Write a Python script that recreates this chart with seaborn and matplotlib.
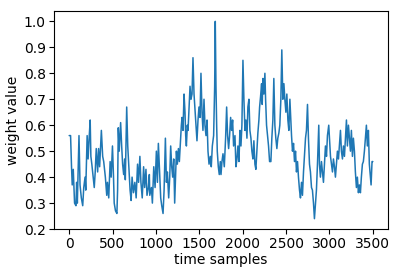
import matplotlib
matplotlib.use('Agg')
import matplotlib.pyplot as plt
import pandas as pd
import seaborn as sns

# values
time_samples = [
    0, 16, 27, 35, 47, 62, 78, 86, 94, 113, 125, 140, 156, 168, 183, 191, 207, 218, 230, 242,
    250, 261, 277, 289, 300, 312, 328, 339, 351, 371, 386, 398, 417, 433, 441, 456, 472, 484, 499, 511,
    519, 534, 550, 558, 566, 577, 593, 605, 616, 628, 640, 647, 663, 675, 686, 702, 714, 725, 741, 757,
    772, 788, 800, 815, 827, 842, 858, 870, 885, 897, 913, 924,
    929, 948, 959, 975, 990, 1005, 1017, 1028, 1044, 1055, 1067, 1082, 1094, 1109, 1121, 1132, 1147, 1159, 1170, 1182,
    1193, 1205, 1216, 1228, 1236, 1247, 1259, 1270, 1282, 1293, 1301, 1312, 1324, 1335, 1343, 1351, 1362, 1370, 1381, 1393,
    1404, 1416, 1427, 1439, 1450, 1462, 1473, 1485, 1496, 1508, 1519, 1531, 1542, 1554, 1565, 1577, 1589, 1600, 1612, 1627,
    1638, 1650, 1665, 1677, 1684, 1692, 1700, 1707, 1719, 1730, 1742, 1750, 1761, 1773, 1788, 1803, 1815, 1826, 1838, 1849,
    1861, 1872, 1884, 1895, 1911, 1922, 1934, 1945, 1957, 1968, 1980, 1991, 2003, 2014, 2026, 2037, 2049, 2060, 2072, 2083,
    2095, 2106, 2118, 2129, 2141, 2152, 2164, 2175, 2187,
    2195, 2206, 2218, 2225, 2233, 2244, 2256, 2264, 2275, 2287, 2298, 2310, 2325, 2336, 2348, 2359, 2371, 2382, 2394, 2405,
    2417, 2428, 2440, 2451, 2463, 2475, 2486, 2498, 2509, 2521, 2532, 2544, 2555, 2563, 2574, 2586, 2597, 2609, 2620, 2632,
    2643, 2655, 2666, 2678, 2689, 2701, 2712, 2724, 2735, 2747, 2758, 2770, 2781, 2793, 2804, 2816, 2827, 2839, 2850, 2862,
    2877, 2885, 2896, 2908, 2919, 2931, 2942, 2954, 2966, 2977, 2992, 3012, 3023, 3035, 3046, 3058, 3069, 3081, 3092, 3104,
    3115, 3127, 3138, 3150, 3161, 3173, 3184, 3196, 3207, 3219, 3230, 3242, 3253, 3265, 3276, 3288, 3299, 3311, 3322, 3334,
    3345, 3357, 3368, 3380, 3391, 3403, 3414, 3426, 3437, 3449, 3460, 3472, 3480, 3491, 3500,
]
weights = [
    0.56, 0.56, 0.44, 0.37, 0.43, 0.30, 0.29, 0.38, 0.30, 0.56, 0.37, 0.32, 0.29, 0.36, 0.40, 0.35, 0.56, 0.47, 0.55, 0.62,
    0.48, 0.45, 0.40, 0.36, 0.42, 0.51, 0.42, 0.51, 0.44, 0.58, 0.48, 0.46, 0.40, 0.33, 0.38, 0.32, 0.46, 0.40, 0.52, 0.40,
    0.30, 0.27, 0.26, 0.35, 0.59, 0.50, 0.61, 0.52, 0.45, 0.41, 0.47, 0.39, 0.67, 0.52, 0.45, 0.35, 0.31, 0.40, 0.34, 0.38,
    0.32, 0.45, 0.38, 0.48, 0.38, 0.32, 0.44, 0.36, 0.43, 0.33, 0.36, 0.41,
    0.33, 0.36, 0.30, 0.44, 0.36, 0.50, 0.38, 0.53, 0.40, 0.32, 0.29, 0.26, 0.35, 0.55, 0.38, 0.42, 0.32, 0.40, 0.52, 0.44,
    0.40, 0.47, 0.30, 0.42, 0.50, 0.45, 0.51, 0.46, 0.53, 0.60, 0.63, 0.58, 0.72, 0.65, 0.56, 0.52, 0.60, 0.58, 0.66, 0.75,
    0.70, 0.72, 0.86, 0.72, 0.66, 0.60, 0.54, 0.62, 0.67, 0.63, 0.80, 0.65, 0.58, 0.70, 0.60, 0.56, 0.62, 0.50, 0.45, 0.48,
    0.44, 0.52, 0.56, 0.75, 1.00, 0.75, 0.60, 0.50, 0.44, 0.41, 0.46, 0.41, 0.46, 0.49, 0.44, 0.55, 0.67, 0.56, 0.51, 0.56,
    0.63, 0.58, 0.62, 0.52, 0.56, 0.44, 0.47, 0.52, 0.46, 0.58, 0.52, 0.60, 0.85, 0.70, 0.58, 0.62, 0.55, 0.67, 0.70, 0.58,
    0.55, 0.50, 0.47, 0.54, 0.45, 0.43, 0.50, 0.57, 0.62,
    0.67, 0.71, 0.76, 0.68, 0.78, 0.72, 0.80, 0.70, 0.60, 0.56, 0.52, 0.46, 0.46, 0.55, 0.62, 0.78, 0.60, 0.55, 0.51, 0.55,
    0.57, 0.60, 0.70, 0.89, 0.70, 0.76, 0.70, 0.65, 0.72, 0.62, 0.58, 0.70, 0.62, 0.56, 0.50, 0.53, 0.46, 0.50, 0.42, 0.46,
    0.40, 0.35, 0.32, 0.38, 0.33, 0.42, 0.48, 0.55, 0.58, 0.68, 0.55, 0.45, 0.42, 0.36, 0.35, 0.30, 0.24, 0.30, 0.35, 0.45,
    0.60, 0.45, 0.40, 0.46, 0.42, 0.38, 0.45, 0.52, 0.48, 0.56, 0.60, 0.48, 0.45, 0.42, 0.47, 0.44, 0.40, 0.45, 0.50, 0.47,
    0.52, 0.58, 0.50, 0.47, 0.52, 0.48, 0.55, 0.62, 0.52, 0.60, 0.55, 0.50, 0.58, 0.48, 0.55, 0.50, 0.42, 0.36, 0.40, 0.34,
    0.37, 0.34, 0.40, 0.45, 0.46, 0.50, 0.55, 0.60, 0.52, 0.58, 0.45, 0.40, 0.37, 0.46, 0.46,
]
yticks = [0.2, 0.3, 0.4, 0.5, 0.6, 0.7, 0.8, 0.9, 1.0]
xticks = [0, 500, 1000, 1500, 2000, 2500, 3000, 3500]

df = pd.DataFrame({'t': time_samples, 'w': weights})

sns.set_style('ticks', {'axes.edgecolor': 'black', 'text.color': 'black',
                        'xtick.color': 'black', 'ytick.color': 'black',
                        'axes.labelcolor': 'black'})
plt.rcParams['font.family'] = ['DejaVu Sans']

fig = plt.figure(figsize=(4, 2.74), dpi=100)
ax = fig.add_axes([0.135, 0.164, 0.835, 0.796])
sns.lineplot(x='t', y='w', data=df, color='#1f77b4', linewidth=1.1, ax=ax)

ax.set_xticks(xticks)
ax.set_yticks(yticks)
ax.set_yticklabels([f'{v:.1f}' for v in yticks])
ax.set_ylim(0.2, 1.04)
ax.set_xlim(-175, 3675)
ax.tick_params(labelsize=10, length=3.5, width=0.8, pad=2.5)
for s in ax.spines.values():
    s.set_linewidth(0.8)
ax.set_xlabel('time samples', fontsize=10, labelpad=1)
ax.set_ylabel('weight value', fontsize=10, labelpad=3)

fig.savefig('out.png', dpi=100)
